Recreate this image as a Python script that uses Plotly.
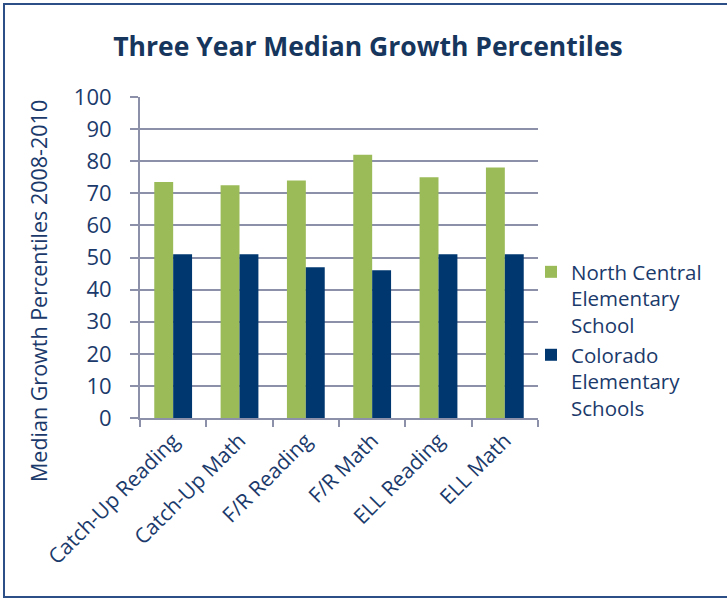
import plotly.graph_objects as go

categories = ["Catch-Up Reading", "Catch-Up Math", "F/R Reading", "F/R Math", "ELL Reading", "ELL Math"]
north_central = [73.5, 72.5, 74, 82, 75, 78]
colorado = [51, 51, 47, 46, 51, 51]
series_names = ["North Central<br>Elementary<br>School", "Colorado<br>Elementary<br>Schools"]
y_ticks = [0, 10, 20, 30, 40, 50, 60, 70, 80, 90, 100]
y_title = "Median Growth Percentiles 2008-2010"

TXT = "#1B3A6B"
GRID = "#8C91A9"
FONT = "Open Sans"

fig = go.Figure()
fig.add_trace(go.Bar(x=categories, y=north_central, name=series_names[0],
                     marker=dict(color="#9BBB59", line=dict(width=0))))
fig.add_trace(go.Bar(x=categories, y=colorado, name=series_names[1],
                     marker=dict(color="#00376F", line=dict(width=0))))

L, R, T, B = 140, 189, 97, 181
W, H = 727, 599
pw, ph = W - L - R, H - T - B

def px(x):
    return (x - L) / pw

def py(y):
    return (H - B - y) / ph

fig.update_layout(
    width=W, height=H,
    margin=dict(l=L, r=R, t=T, b=B),
    paper_bgcolor="white", plot_bgcolor="white",
    barmode="group", bargap=0.43, bargroupgap=0,
    font=dict(family=FONT, color=TXT),
    title=dict(text="<b>Three Year Median Growth Percentiles</b>",
               font=dict(family=FONT, size=26.5, color="#17365D"),
               x=px(368), xref="paper", xanchor="center",
               y=1 - 47 / H, yanchor="middle"),
    showlegend=True,
    legend=dict(x=px(531), y=py(252), xanchor="left", yanchor="top",
                valign="top",
                font=dict(family=FONT, size=20.5, color=TXT),
                tracegroupgap=2, itemwidth=30, bgcolor="rgba(0,0,0,0)"),
    xaxis=dict(showgrid=False, showline=True, linecolor=GRID, linewidth=2,
               ticks="outside", tickson="boundaries", ticklen=7, tickcolor=GRID, tickwidth=2,
               tickangle=-45, tickfont=dict(family=FONT, size=21, color=TXT)),
    yaxis=dict(range=[0, 100], tickvals=y_ticks, showgrid=True, gridcolor=GRID, gridwidth=2,
               showline=True, linecolor=GRID, linewidth=2, zeroline=False,
               ticks="outside", ticklen=8, tickcolor=GRID, tickwidth=2,
               ticklabelstandoff=14,
               tickfont=dict(family=FONT, size=22, color=TXT)),
    annotations=[dict(text=y_title, textangle=-90, xref="paper", yref="paper",
                      x=px(38), y=py(291), xanchor="center", yanchor="middle",
                      showarrow=False, font=dict(family=FONT, size=21.5, color=TXT))],
    shapes=[dict(type="rect", xref="paper", yref="paper",
                 x0=px(4), x1=px(728), y0=py(597), y1=py(4),
                 line=dict(color="#2B4F86", width=2), fillcolor="rgba(0,0,0,0)", layer="below")],
)

fig.write_html("out.html")
